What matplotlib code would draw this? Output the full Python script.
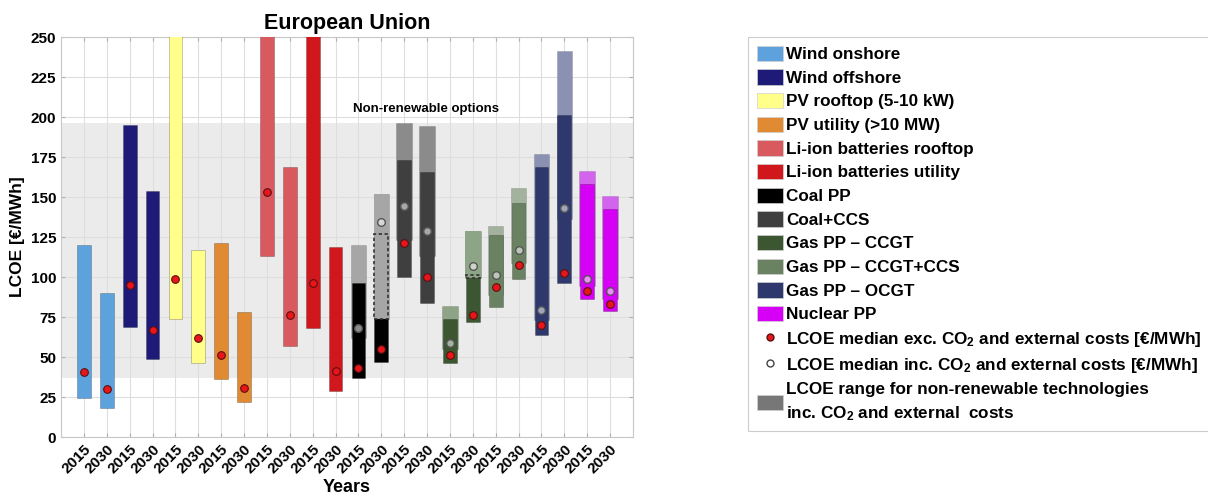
import numpy as np
import matplotlib
matplotlib.use("Agg")
import matplotlib.pyplot as plt
from matplotlib.patches import Patch, Rectangle
from matplotlib.lines import Line2D
from matplotlib.transforms import ScaledTranslation

plt.rcParams['font.family'] = ['Liberation Sans', 'DejaVu Sans']
plt.rcParams['font.weight'] = 'bold'
plt.rcParams['mathtext.fontset'] = 'custom'
plt.rcParams['mathtext.rm'] = 'Liberation Sans:bold'
plt.rcParams['mathtext.default'] = 'rm'

# technologies, two years each (2015, 2030)
techs = ['Wind onshore', 'Wind offshore', 'PV rooftop (5-10 kW)', 'PV utility (>10 MW)',
         'Li-ion batteries rooftop', 'Li-ion batteries utility', 'Coal PP', 'Coal+CCS',
         'Gas PP \u2013 CCGT', 'Gas PP \u2013 CCGT+CCS', 'Gas PP \u2013 OCGT', 'Nuclear PP']
colors = ['#5da2dd', '#1d1a78', '#ffff8a', '#e08b33', '#d85a5e', '#d0181c',
          '#000000', '#3f3f3f', '#3b5631', '#6a8162', '#2e386c', '#d500f5']
inc_colors = [None] * 6 + ['#a6a6a6', '#8b8b8b', '#8ea486', '#a2b29c', '#8a91b2', '#d264ee']
years = ['2015', '2030'] * 12

# LCOE range / median excluding CO2 and external costs [EUR/MWh]
exc_low = [24.5, 18, 69, 49, 73.5, 46, 36, 22, 113, 57, 68, 29,
           37, 47, 100, 84, 46.5, 72, 81.5, 99, 64, 96.5, 86.5, 79]
exc_high = [120, 90, 195, 154, 300, 117, 121.5, 78, 300, 169, 300, 119,
            96, 127, 173, 165.5, 73.5, 101, 126, 146, 168.5, 201, 158, 142.5]
exc_med = [40.5, 30, 95, 67, 99, 62, 51, 30.5, 153, 76.5, 96.5, 41,
           43, 55, 121, 100, 51, 76, 94, 107.5, 70, 102.5, 91, 83]

# LCOE range / median including CO2 and external costs (non-renewables only)
nan = np.nan
inc_low = [nan] * 12 + [62, 73.5, 123, 113, 55, 99.5, 88.5, 108.5, 73, 136.5, 94.5, 86.5]
inc_high = [nan] * 12 + [120, 152, 196, 194.5, 82, 129, 132, 155.5, 177, 241.5, 166, 150.5]
inc_med = [nan] * 12 + [68, 134.5, 144.5, 129, 59, 107, 101, 117, 79.5, 143, 99, 91]

# bars whose exc range is hidden under the inc range (shown dashed)
hidden_exc = [13, 17]

band_low, band_high = 37, 196.5

fig = plt.figure(figsize=(12.08, 5.03), dpi=100)
ax = fig.add_axes([0.0505, 0.1312, 0.4735, 0.7952])

ax.axhspan(band_low, band_high, color='#ebebeb', zorder=0, lw=0)
ax.text(12.75, 201, 'Non-renewable options', fontsize=9.5, fontweight='bold', va='bottom')

x = np.arange(1, 25)
for i in range(24):
    c = colors[i // 2]
    ic = inc_colors[i // 2]
    if not np.isnan(inc_low[i]):
        ax.bar(x[i], inc_high[i] - inc_low[i], bottom=inc_low[i], width=0.68,
               color=ic, edgecolor=(0, 0, 0, 0.15), lw=0.6, zorder=2)
    ax.bar(x[i], exc_high[i] - exc_low[i], bottom=exc_low[i], width=0.6,
           color=c, edgecolor=(0, 0, 0, 0.25), lw=0.6, zorder=3)
    if i in hidden_exc:
        ax.bar(x[i], inc_high[i] - inc_low[i], bottom=inc_low[i], width=0.68,
               color=ic, lw=0, zorder=4)
        ax.add_patch(Rectangle((x[i] - 0.3, inc_low[i]), 0.6, exc_high[i] - inc_low[i],
                               fill=False, ls=(0, (2, 1.5)), lw=1.2, ec='#333333', zorder=5))

ax.plot(x, exc_med, 'o', ms=5.5, mfc='#e8161a', mec='#5a1010', mew=0.8, ls='none', zorder=6)
ax.plot(x, inc_med, 'o', ms=5.5, mfc=(1, 1, 1, 0.55), mec='#555555', mew=1.0, ls='none', zorder=6)

ax.set_xlim(0, 25)
ax.set_ylim(0, 250)
ax.set_yticks(np.arange(0, 251, 25))
ax.set_xticks(x)
ax.set_xticklabels(years, rotation=45, ha='right', va='top', rotation_mode='anchor')
for lab in ax.get_xticklabels():
    lab.set_transform(lab.get_transform() + ScaledTranslation(0.1, -0.02, fig.dpi_scale_trans))
ax.tick_params(labelsize=11, direction='in', top=True, right=True, length=3,
               color='#b0b0b0', width=0.8)
ax.set_axisbelow(True)
ax.grid(True, color='#dedede', lw=0.8)
for sp in ax.spines.values():
    sp.set_color('#c8c8c8')

ax.set_title('European Union', fontsize=15.5, fontweight='bold', pad=6)
ax.set_ylabel('LCOE [\u20ac/MWh]', fontsize=12.5, fontweight='bold', labelpad=4)
ax.set_xlabel('Years', fontsize=13, fontweight='bold', labelpad=2)

handles = [Patch(facecolor=c, edgecolor='#d0d0d0', lw=0.5) for c in colors]
handles.append(Line2D([], [], marker='o', ls='none', ms=5, mfc='#e8161a', mec='#5a1010'))
handles.append(Line2D([], [], marker='o', ls='none', ms=5, mfc='white', mec='#444444'))
handles.append(Patch(facecolor='#777777', edgecolor='#d0d0d0', lw=0.5))
labels = techs + ['LCOE median exc. CO$_2$ and external costs [\u20ac/MWh]',
                  'LCOE median inc. CO$_2$ and external costs [\u20ac/MWh]',
                  'LCOE range for non-renewable technologies\ninc. CO$_2$ and external  costs']
leg = fig.legend(handles, labels, loc='upper left', bbox_to_anchor=(748 / 1208, 1 - 37 / 503),
                 frameon=True, fancybox=False, edgecolor='#c0c0c0',
                 handlelength=1.55, handleheight=1.0, handletextpad=0.2, labelspacing=0.42,
                 borderaxespad=0, borderpad=0.5, prop={'weight': 'bold', 'size': 12.3})
leg.get_frame().set_linewidth(0.8)
leg.get_texts()[-1].set_linespacing(1.5)

fig.savefig('out.png', dpi=100)
